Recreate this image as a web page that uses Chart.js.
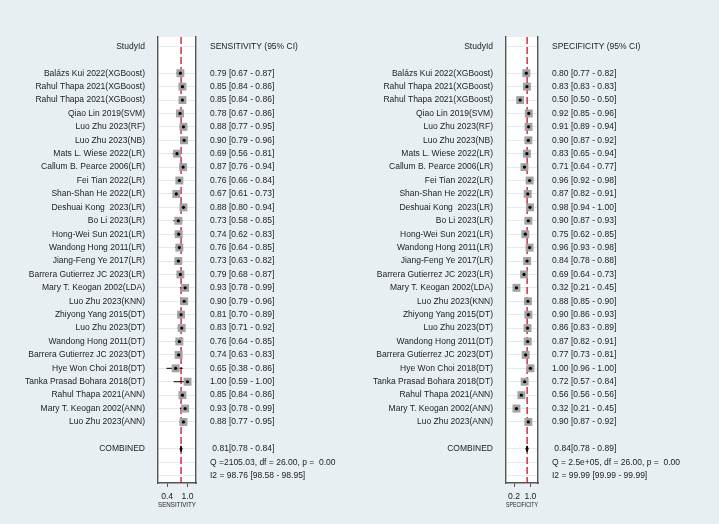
<!DOCTYPE html>
<html>
<head>
<meta charset="utf-8">
<script src="https://cdn.jsdelivr.net/npm/chart.js@4.4.0/dist/chart.umd.min.js"></script>
<style>
  html, body { margin: 0; padding: 0; background: #e8eff2; }
  #wrap { position: relative; width: 719px; height: 524px; overflow: hidden; }
  .panel { position: absolute; top: 0; height: 524px; }
</style>
</head>
<body>
<div id="wrap">
  <div class="panel" style="left:0;width:360px"><canvas id="sensChart"></canvas></div>
  <div class="panel" style="left:360px;width:359px"><canvas id="specChart"></canvas></div>
</div>
<script>
const studies = [
  'Balázs Kui 2022(XGBoost)', 'Rahul Thapa 2021(XGBoost)', 'Rahul Thapa 2021(XGBoost)',
  'Qiao Lin 2019(SVM)', 'Luo Zhu 2023(RF)', 'Luo Zhu 2023(NB)', 'Mats L. Wiese 2022(LR)',
  'Callum B. Pearce 2006(LR)', 'Fei Tian 2022(LR)', 'Shan-Shan He 2022(LR)',
  'Deshuai Kong  2023(LR)', 'Bo Li 2023(LR)', 'Hong-Wei Sun 2021(LR)', 'Wandong Hong 2011(LR)',
  'Jiang-Feng Ye 2017(LR)', 'Barrera Gutierrez JC 2023(LR)', 'Mary T. Keogan 2002(LDA)',
  'Luo Zhu 2023(KNN)', 'Zhiyong Yang 2015(DT)', 'Luo Zhu 2023(DT)', 'Wandong Hong 2011(DT)',
  'Barrera Gutierrez JC 2023(DT)', 'Hye Won Choi 2018(DT)', 'Tanka Prasad Bohara 2018(DT)',
  'Rahul Thapa 2021(ANN)', 'Mary T. Keogan 2002(ANN)', 'Luo Zhu 2023(ANN)'
];

const sensEst = [0.79, 0.85, 0.85, 0.78, 0.88, 0.90, 0.69, 0.87, 0.76, 0.67, 0.88, 0.73, 0.74, 0.76,
                 0.73, 0.79, 0.93, 0.90, 0.81, 0.83, 0.76, 0.74, 0.65, 1.00, 0.85, 0.93, 0.88];
const sensLo  = [0.67, 0.84, 0.84, 0.67, 0.77, 0.79, 0.56, 0.76, 0.66, 0.61, 0.80, 0.58, 0.62, 0.64,
                 0.63, 0.68, 0.78, 0.79, 0.70, 0.71, 0.64, 0.63, 0.38, 0.59, 0.84, 0.78, 0.77];
const sensHi  = [0.87, 0.86, 0.86, 0.86, 0.95, 0.96, 0.81, 0.94, 0.84, 0.73, 0.94, 0.85, 0.83, 0.85,
                 0.82, 0.87, 0.99, 0.96, 0.89, 0.92, 0.85, 0.83, 0.86, 1.00, 0.86, 0.99, 0.95];

const specEst = [0.80, 0.83, 0.50, 0.92, 0.91, 0.90, 0.83, 0.71, 0.96, 0.87, 0.98, 0.90, 0.75, 0.96,
                 0.84, 0.69, 0.32, 0.88, 0.90, 0.86, 0.87, 0.77, 1.00, 0.72, 0.56, 0.32, 0.90];
const specLo  = [0.77, 0.83, 0.50, 0.85, 0.89, 0.87, 0.65, 0.64, 0.92, 0.82, 0.94, 0.87, 0.62, 0.93,
                 0.78, 0.64, 0.21, 0.85, 0.86, 0.83, 0.82, 0.73, 0.96, 0.57, 0.56, 0.21, 0.87];
const specHi  = [0.82, 0.83, 0.50, 0.96, 0.94, 0.92, 0.94, 0.77, 0.98, 0.91, 1.00, 0.93, 0.85, 0.98,
                 0.88, 0.73, 0.45, 0.90, 0.93, 0.89, 0.91, 0.81, 1.00, 0.84, 0.56, 0.45, 0.92];

// pooled: estimate, lower, upper
const sensPooled = [0.81, 0.78, 0.84];
const specPooled = [0.84, 0.78, 0.89];
const sensStats = ['Q =2105.03, df = 26.00, p =  0.00', 'I2 = 98.76 [98.58 - 98.95]'];
const specStats = ['Q = 2.5e+05, df = 26.00, p =  0.00', 'I2 = 99.99 [99.99 - 99.99]'];

const sensTicks = [0.4, 1.0];
const specTicks = [0.2, 1.0];

const FONT = '"Liberation Sans", Arial, sans-serif';
const TXT = '#1c1c1c';
const AXIS = '#555555';

const f2 = v => v.toFixed(2);

function makePanel(id, o) {
  const n = studies.length;
  const rowCombined = n + 1;

  const ciData = [];
  o.lo.forEach((lo, i) => {
    ciData.push({ x: lo, y: i }, { x: o.hi[i], y: i }, { x: o.hi[i], y: null });
  });
  const [pe, pl, ph] = o.pooled;
  const diamond = [
    { x: pl, y: rowCombined }, { x: pe, y: rowCombined - 0.22 },
    { x: ph, y: rowCombined }, { x: pe, y: rowCombined + 0.22 }, { x: pl, y: rowCombined }
  ];

  const leftLabel = v => {
    if (v === -2) return 'StudyId';
    if (v >= 0 && v < n) return studies[v];
    if (v === rowCombined) return 'COMBINED';
    return '';
  };
  const rightLabel = v => {
    if (v === -2) return o.header;
    if (v >= 0 && v < n) return `${f2(o.est[v])} [${f2(o.lo[v])} - ${f2(o.hi[v])}]`;
    if (v === rowCombined) return ` ${f2(pe)}[${f2(pl)} - ${f2(ph)}]`;
    if (v === rowCombined + 1) return o.stats[0];
    if (v === rowCombined + 2) return o.stats[1];
    return '';
  };
  const rows = [];
  for (let r = -2; r <= rowCombined + 2; r++) rows.push({ value: r });

  const yBase = {
    type: 'linear', reverse: true, min: -2.7, max: rowCombined + 2.55,
    afterBuildTicks: s => { s.ticks = rows.map(t => ({ ...t })); },
  };

  const bgPlugin = {
    id: 'panelBg',
    beforeDraw(chart) {
      const { ctx, chartArea: a } = chart;
      ctx.save();
      ctx.fillStyle = '#ffffff';
      ctx.fillRect(a.left, a.top, a.right - a.left, a.bottom - a.top);
      ctx.restore();
    },
    beforeDatasetsDraw(chart) {
      const { ctx, chartArea: a, scales } = chart;
      const x = scales.x.getPixelForValue(pe);
      ctx.save();
      ctx.strokeStyle = '#c8102e';
      ctx.lineWidth = 1.3;
      ctx.setLineDash([7, 3]);
      ctx.beginPath();
      ctx.moveTo(x, a.top);
      ctx.lineTo(x, a.bottom);
      ctx.stroke();
      ctx.restore();
    }
  };

  return new Chart(document.getElementById(id), {
    data: {
      datasets: [
        { type: 'scatter', data: o.est.map((v, i) => ({ x: v, y: i })), pointStyle: 'circle',
          pointRadius: 1.6, backgroundColor: '#000', borderWidth: 0, order: 1 },
        { type: 'line', data: diamond, borderColor: '#000', backgroundColor: '#000', borderWidth: 1,
          fill: 'shape', pointRadius: 0, tension: 0, order: 1 },
        { type: 'scatter', data: o.est.map((v, i) => ({ x: v, y: i })), pointStyle: 'rect',
          pointRadius: 5.6, backgroundColor: '#a2a2a2', borderWidth: 0, order: 2 },
        { type: 'line', data: ciData, borderColor: '#000', borderWidth: 1, pointRadius: 0,
          spanGaps: false, order: 3 },
      ]
    },
    options: {
      responsive: true,
      maintainAspectRatio: false,
      animation: false,
      layout: { padding: { top: 37, left: 0, right: 0, bottom: 0 } },
      plugins: { legend: { display: false }, tooltip: { enabled: false } },
      scales: {
        x: {
          type: 'linear', min: o.xMin, max: o.xMax,
          afterBuildTicks: s => { s.ticks = o.ticks.map(v => ({ value: v })); },
          afterFit: s => { s.height = 41; },
          grid: { drawOnChartArea: false, drawTicks: true, tickLength: 4, tickColor: AXIS, tickWidth: 1 },
          border: { display: true, color: AXIS, width: 1.4 },
          ticks: { callback: v => v.toFixed(1), font: { family: FONT, size: 8.6 }, color: TXT,
                   padding: 4, maxRotation: 0, autoSkip: false },
          title: { display: true, text: o.xTitle, font: { family: FONT, size: 6.5 }, color: TXT,
                   padding: { top: 0, bottom: 15 } }
        },
        y: {
          ...yBase, position: 'left',
          afterFit: s => { s.width = o.leftW; },
          grid: {
            drawTicks: false, lineWidth: 1,
            color: c => (c.tick && (c.tick.value === -1 || c.tick.value === n)) ? 'rgba(0,0,0,0)' : '#e2eaef'
          },
          border: { display: true, color: AXIS, width: 1.4 },
          ticks: { callback: v => leftLabel(v), font: { family: FONT, size: 8.5 }, color: TXT,
                   padding: 13, autoSkip: false }
        },
        y2: {
          ...yBase, position: 'right',
          afterFit: s => { s.width = o.rightW; },
          grid: { drawOnChartArea: false, drawTicks: false },
          border: { display: true, color: AXIS, width: 1.4 },
          ticks: { callback: v => rightLabel(v), font: { family: FONT, size: 8.5 }, color: TXT,
                   padding: 14, autoSkip: false }
        }
      }
    },
    plugins: [bgPlugin]
  });
}

makePanel('sensChart', {
  est: sensEst, lo: sensLo, hi: sensHi, pooled: sensPooled, stats: sensStats,
  header: 'SENSITIVITY (95% CI)', xTitle: 'SENSITIVITY', ticks: sensTicks,
  xMin: 0.13, xMax: 1.25, leftW: 158, rightW: 164
});
makePanel('specChart', {
  est: specEst, lo: specLo, hi: specHi, pooled: specPooled, stats: specStats,
  header: 'SPECIFICITY (95% CI)', xTitle: 'SPECIFICITY', ticks: specTicks,
  xMin: -0.19, xMax: 1.37, leftW: 146, rightW: 181
});
</script>
</body>
</html>
